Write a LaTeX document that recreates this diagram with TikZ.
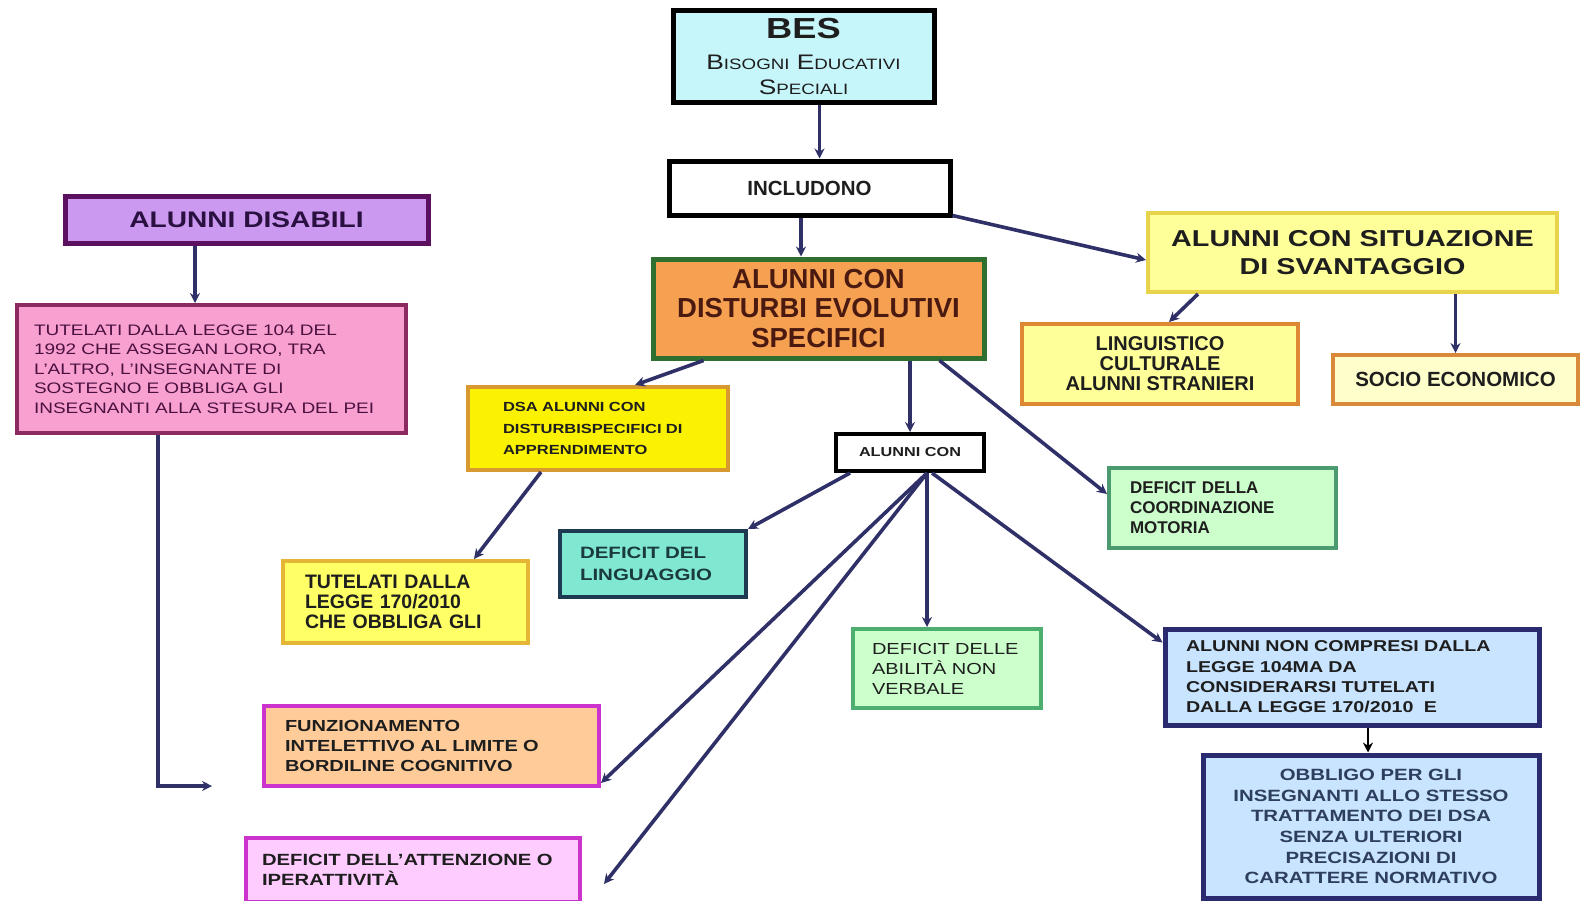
\documentclass[tikz,border=0pt]{standalone}
\usepackage{fontspec}
\setmainfont{Liberation Sans}
\newfontfamily\widesans{Liberation Sans}[FakeStretch=1.25]
\usetikzlibrary{arrows.meta}
\definecolor{besfill}{HTML}{C6F5FA}
\definecolor{disfill}{HTML}{CC99F0}
\definecolor{disline}{HTML}{5C1060}
\definecolor{distxt}{HTML}{2A1040}
\definecolor{tutfill}{HTML}{F8A0D0}
\definecolor{tutline}{HTML}{8B2A60}
\definecolor{tuttxt}{HTML}{4A1040}
\definecolor{desfill}{HTML}{F6A052}
\definecolor{desline}{HTML}{2F6F2F}
\definecolor{destxt}{HTML}{4A1A10}
\definecolor{sitfill}{HTML}{FFFF99}
\definecolor{sitline}{HTML}{E8D44A}
\definecolor{lingline}{HTML}{DD8833}
\definecolor{sociofill}{HTML}{FFFFCC}
\definecolor{socioline}{HTML}{D9893A}
\definecolor{dsafill}{HTML}{FAF200}
\definecolor{dsaline}{HTML}{D89A30}
\definecolor{greenfill}{HTML}{CCFFCC}
\definecolor{coordline}{HTML}{4C9A70}
\definecolor{abilline}{HTML}{4CAF70}
\definecolor{lingufill}{HTML}{80E8D0}
\definecolor{linguline}{HTML}{1E3A50}
\definecolor{lingutxt}{HTML}{1A3A40}
\definecolor{legfill}{HTML}{FFFF66}
\definecolor{legline}{HTML}{E5B535}
\definecolor{bluefill}{HTML}{C8E4FF}
\definecolor{blueline}{HTML}{2A2A70}
\definecolor{obbtxt}{HTML}{2E3E5E}
\definecolor{funzfill}{HTML}{FFCC99}
\definecolor{pinkfill}{HTML}{FFCCFF}
\definecolor{magline}{HTML}{CC33CC}
\definecolor{arrowc}{HTML}{303068}
\definecolor{txt}{HTML}{1E1E1E}
\newcommand\besSmall[1]{{\fontsize{15}{18}\selectfont #1}}
\begin{document}
\begin{tikzpicture}[x=1pt,y=-1pt]
	\tikzstyle{cbox}=[draw,rectangle,line width=4pt,inner sep=0pt,align=center,text=txt]
	\tikzstyle{lbox}=[draw,rectangle,line width=4pt,inner ysep=0pt,align=left,text=txt]
	\tikzstyle{arr}=[draw=arrowc,line width=3.6pt,-{Stealth[length=10pt,width=10pt]}]
	\fill[white](0,0)rectangle(1581,900);
	\useasboundingbox(0,0)rectangle(1581,900);
	\node(bes)[cbox,fill=besfill,draw=black,line width=5pt,minimum width=261pt,minimum height=92pt,font=\widesans\fontsize{21}{24.5}\selectfont] at (803.5,56)
		{{\bfseries\fontsize{29}{30}\selectfont BES}\\[7pt]B\besSmall{ISOGNI} E\besSmall{DUCATIVI}\\S\besSmall{PECIALI}};
	\node(incl)[cbox,fill=white,draw=black,line width=5pt,minimum width=281pt,minimum height=54pt,font=\bfseries\fontsize{20.5}{24}\selectfont] at (809.5,188){INCLUDONO};
	\node(dis)[cbox,fill=disfill,draw=disline,line width=5pt,minimum width=363pt,minimum height=47pt,text=distxt,font=\widesans\bfseries\fontsize{22.5}{26}\selectfont] at (246.5,219.5){ALUNNI DISABILI};
	\node(tut)[lbox,fill=tutfill,draw=tutline,text width=355pt,inner xsep=17pt,minimum height=128pt,text=tuttxt,font=\widesans\fontsize{15.2}{19.6}\selectfont] at (211.5,369)
		{TUTELATI DALLA LEGGE 104 DEL\\1992 CHE ASSEGAN LORO, TRA\\L’ALTRO, L’INSEGNANTE DI\\SOSTEGNO E OBBLIGA GLI\\INSEGNANTI ALLA STESURA DEL PEI};
	\node(des)[cbox,fill=desfill,draw=desline,line width=5pt,minimum width=331pt,minimum height=99pt,text=destxt,font=\bfseries\fontsize{27.5}{29.8}\selectfont] at (818.5,308.5)
		{ALUNNI CON\\DISTURBI EVOLUTIVI\\SPECIFICI};
	\node(sit)[cbox,fill=sitfill,draw=sitline,minimum width=409pt,minimum height=79pt,font=\widesans\bfseries\fontsize{23}{28}\selectfont] at (1352.5,252.5)
		{ALUNNI CON SITUAZIONE\\DI SVANTAGGIO};
	\node(ling)[cbox,fill=sitfill,draw=lingline,minimum width=276pt,minimum height=80pt,font=\bfseries\fontsize{20}{20}\selectfont] at (1160,364)
		{LINGUISTICO\\CULTURALE\\ALUNNI STRANIERI};
	\node(socio)[cbox,fill=sociofill,draw=socioline,minimum width=245pt,minimum height=49pt,font=\bfseries\fontsize{20.5}{24}\selectfont] at (1455.5,379.5){SOCIO ECONOMICO};
	\node(dsa)[lbox,fill=dsafill,draw=dsaline,text width=190pt,inner xsep=35pt,minimum height=83pt,font=\widesans\bfseries\fontsize{13.2}{21.5}\selectfont] at (598,428.5)
		{DSA ALUNNI CON\\DISTURBISPECIFICI DI\\APPRENDIMENTO};
	\node(alcon)[cbox,fill=white,draw=black,minimum width=148pt,minimum height=37pt,font=\widesans\bfseries\fontsize{13}{16}\selectfont] at (910,452.5){ALUNNI CON};
	\node(coord)[lbox,fill=greenfill,draw=coordline,text width=185pt,inner xsep=21pt,minimum height=80pt,font=\bfseries\fontsize{17}{20}\selectfont] at (1222.5,508)
		{DEFICIT DELLA\\COORDINAZIONE\\MOTORIA};
	\node(lingu)[lbox,fill=lingufill,draw=linguline,text width=146pt,inner xsep=20pt,minimum height=66pt,text=lingutxt,font=\widesans\bfseries\fontsize{16.4}{22}\selectfont] at (653,564)
		{DEFICIT DEL\\LINGUAGGIO};
	\node(tutleg)[lbox,fill=legfill,draw=legline,text width=201pt,inner xsep=22pt,minimum height=82pt,font=\bfseries\fontsize{19.5}{20}\selectfont] at (405.5,602)
		{TUTELATI DALLA\\LEGGE 170/2010\\CHE OBBLIGA GLI};
	\node(abil)[lbox,fill=greenfill,draw=abilline,text width=150pt,inner xsep=19pt,minimum height=79pt,font=\widesans\fontsize{16}{20}\selectfont] at (947,668.5)
		{DEFICIT DELLE\\ABILITÀ NON\\VERBALE};
	\node(noncomp)[lbox,fill=bluefill,draw=blueline,line width=5pt,text width=332pt,inner xsep=21pt,minimum height=96pt,font=\widesans\bfseries\fontsize{15.7}{20.3}\selectfont] at (1352,677)
		{ALUNNI NON COMPRESI DALLA\\LEGGE 104MA DA\\CONSIDERARSI TUTELATI\\DALLA LEGGE 170/2010~~E};
	\node(obbl)[cbox,fill=bluefill,draw=blueline,line width=5pt,minimum width=336pt,minimum height=143pt,text=obbtxt,font=\widesans\bfseries\fontsize{16.3}{20.6}\selectfont] at (1371,826.5)
		{OBBLIGO PER GLI\\INSEGNANTI ALLO STESSO\\TRATTAMENTO DEI DSA\\SENZA ULTERIORI\\PRECISAZIONI DI\\CARATTERE NORMATIVO};
	\node(funz)[lbox,fill=funzfill,draw=magline,text width=293pt,inner xsep=21pt,minimum height=80pt,font=\widesans\bfseries\fontsize{16}{20}\selectfont] at (431.5,746)
		{FUNZIONAMENTO\\INTELETTIVO AL LIMITE O\\BORDILINE COGNITIVO};
	\node(attenz)[lbox,fill=pinkfill,draw=magline,text width=302pt,inner xsep=16pt,minimum height=64pt,font=\widesans\bfseries\fontsize{16.2}{20}\selectfont] at (413,870)
		{DEFICIT DELL’ATTENZIONE O\\IPERATTIVITÀ};
	\coordinate(tutend) at (212,786);
	\draw[arr]([xshift=16pt]bes.south)--([xshift=16pt]bes.south|-incl.north);
	\draw[arr]([xshift=-8.5pt]incl.south)--([xshift=-8.5pt]incl.south|-des.north);
	\draw[arr]([yshift=2pt]incl.south east)--([yshift=-7.5pt]sit.west);
	\draw[arr]([xshift=-51.5pt]dis.south)--([xshift=-51.5pt]dis.south|-tut.north);
	\draw[arr]([xshift=-53.5pt]tut.south)|-(tutend);
	\draw[arr]([xshift=53pt]des.south west)--([xshift=37pt]dsa.north);
	\draw[arr](alcon.north|-des.south)--(alcon.north);
	\draw[arr]([xshift=-47pt]des.south east)--([yshift=14pt]coord.west);
	\draw[arr]([xshift=52pt]sit.south west)--([xshift=9pt]ling.north);
	\draw[arr](socio.north|-sit.south)--(socio.north);
	\draw[arr]([xshift=-57pt]dsa.south)--([xshift=68.5pt]tutleg.north);
	\draw[arr]([xshift=16pt]alcon.south west)--(lingu.north east);
	\draw[arr]([xshift=17pt]alcon.south)--([yshift=5pt]funz.south east);
	\draw[arr]([xshift=17pt]alcon.south)--([xshift=22pt,yshift=-14pt]attenz.east);
	\draw[arr]([xshift=17pt]alcon.south)--([xshift=-20pt]abil.north);
	\draw[arr]([xshift=22pt]alcon.south)--([yshift=-16pt]noncomp.north west);
	\draw[arr,draw=black,line width=2.8pt]([xshift=16pt]noncomp.south)--([xshift=16pt]noncomp.south|-obbl.north);
\end{tikzpicture}
\end{document}
